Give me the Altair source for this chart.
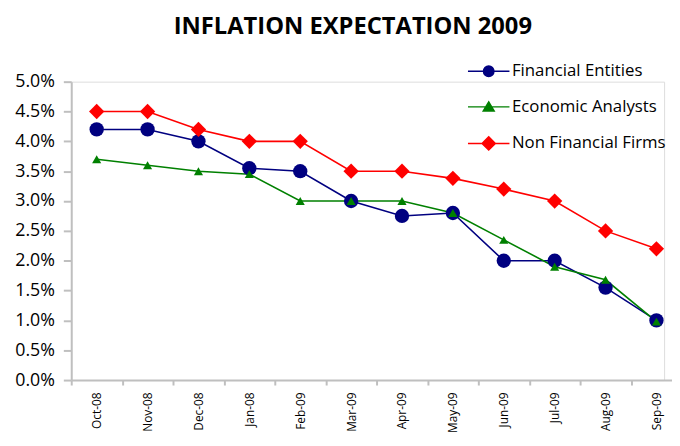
import altair as alt
import pandas as pd

months = ["Oct-08", "Nov-08", "Dec-08", "Jan-08", "Feb-09", "Mar-09",
          "Apr-09", "May-09", "Jun-09", "Jul-09", "Aug-09", "Sep-09"]
financial_entities = [4.2, 4.2, 4.0, 3.55, 3.5, 3.0, 2.75, 2.8, 2.0, 2.0, 1.55, 1.0]
economic_analysts = [3.7, 3.6, 3.5, 3.45, 3.0, 3.0, 3.0, 2.8, 2.35, 1.9, 1.68, 0.98]
non_financial_firms = [4.5, 4.5, 4.2, 4.0, 4.0, 3.5, 3.5, 3.38, 3.2, 3.0, 2.5, 2.2]
series = ["Financial Entities", "Economic Analysts", "Non Financial Firms"]
colors = ["#000080", "#008000", "#FF0000"]
y_ticks = [0.0, 0.005, 0.01, 0.015, 0.02, 0.025, 0.03, 0.035, 0.04, 0.045, 0.05]

rows = []
for name, vals in zip(series, [financial_entities, economic_analysts, non_financial_firms]):
    for m, v in zip(months, vals):
        rows.append({"month": m, "series": name, "value": v / 100.0})
df = pd.DataFrame(rows)

FONT = "Open Sans"
GREY = "#bfbfbf"

x_enc = alt.X(
    "month:N", sort=months, title=None,
    scale=alt.Scale(type="band", domain=months, range=[0, 618], paddingInner=0, paddingOuter=0),
    axis=alt.Axis(labelAngle=270, labelAlign="right", labelBaseline="middle",
                  labelFontSize=12, labelFont=FONT, labelColor="black",
                  labelPadding=7, tickSize=5, tickColor=GREY, tickWidth=2,
                  domainColor=GREY, domainWidth=2, tickBand="extent", grid=False),
)
y_enc = alt.Y(
    "value:Q", title=None,
    scale=alt.Scale(domain=[0, 0.05], nice=False, zero=True),
    axis=alt.Axis(values=y_ticks, format=".1%", labelFontSize=18, labelFont=FONT,
                  labelColor="black", labelPadding=9, tickSize=8, tickColor=GREY,
                  tickWidth=2, domainColor=GREY, domainWidth=2, grid=False),
)
# colour scale for the plotted marks (domain in another order than the legend
# scales so that Vega-Lite does not fold the hidden colour legend into the visible one)
color_domain = [series[2], series[0], series[1]]
color_range = [colors[2], colors[0], colors[1]]
cscale = alt.Scale(domain=color_domain, range=color_range)

base = alt.Chart(df)

lines = base.mark_line(strokeWidth=1.6).encode(
    x=x_enc, y=y_enc, color=alt.Color("series:N", scale=cscale, legend=None),
    detail="series:N",
)

shapes = ["circle", "triangle-up", "diamond"]
sizes = [210, 85, 240]
point_layers = []
for s, shp, sz in zip(series, shapes, sizes):
    point_layers.append(
        base.transform_filter(alt.datum.series == s)
        .mark_point(shape=shp, size=sz, filled=True, opacity=1)
        .encode(x=x_enc, y=y_enc, color=alt.Color("series:N", scale=cscale, legend=None))
    )

legend_paths = [
    "M-3.5,0H3.5M0.88,0A0.88,0.88,0,1,1,-0.88,0A0.88,0.88,0,1,1,0.88,0Z",
    "M-3.5,0H3.5M0,-0.85L0.92,0.7L-0.92,0.7Z",
    "M-3.5,0H3.5M0,-1.12L1.12,0L0,1.12L-1.12,0Z",
]
leg = alt.Legend(orient="none", legendX=414, legendY=-19, title=None,
                 labelFontSize=17, labelFont=FONT, labelColor="black",
                 symbolSize=144, symbolStrokeWidth=1.5, labelOffset=15,
                 rowPadding=18, padding=0)

legend_layer = base.transform_filter("false").mark_point(
    filled=True, opacity=1, strokeWidth=1.5
).encode(
    x=x_enc, y=y_enc,
    fill=alt.Fill("series:N", scale=alt.Scale(domain=series, range=colors), legend=leg),
    stroke=alt.Stroke("series:N", scale=alt.Scale(domain=series, range=colors), legend=leg),
    shape=alt.Shape("series:N", scale=alt.Scale(domain=series, range=legend_paths), legend=leg),
)

chart = alt.layer(lines, *point_layers, legend_layer).properties(
    width=600, height=302,
    padding={"left": 64, "top": 72, "right": 8, "bottom": 51},
    autosize=alt.AutoSizeParams(type="none"),
    title=alt.TitleParams("INFLATION EXPECTATION 2009", font=FONT, fontSize=24,
                          fontWeight="bold", color="black", anchor="middle",
                          dx=-15, offset=24),
).configure_view(stroke=None).configure(background="white")

chart.save("out.html", embed_options={"renderer": "svg", "actions": False})
